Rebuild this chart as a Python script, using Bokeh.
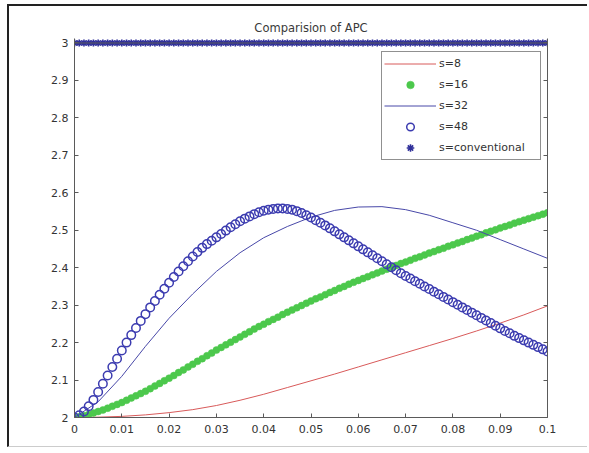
import numpy as np
from bokeh.plotting import figure
from bokeh.models import (Range1d, FixedTicker, LinearAxis, Span, Legend,
                          LegendItem)
from bokeh.embed import file_html
from bokeh.resources import INLINE

# ---------------- data ----------------
title_text = "Comparision of APC"

x_fine = np.round(np.arange(0, 101) * 0.001, 3)      # 0 .. 0.1 step 0.001
x_coarse = np.round(np.arange(0, 21) * 0.005, 3)     # 0 .. 0.1 step 0.005

s8 = [2.000, 2.001, 2.003, 2.007, 2.013, 2.021, 2.032, 2.046, 2.062, 2.080,
      2.098, 2.116, 2.135, 2.154, 2.173, 2.192, 2.211, 2.231, 2.252, 2.274,
      2.298]

s32 = [2.000, 2.042, 2.110, 2.190, 2.265, 2.330, 2.390, 2.440, 2.480, 2.510,
       2.535, 2.553, 2.562, 2.563, 2.555, 2.540, 2.520, 2.500, 2.475, 2.450,
       2.425]

s16 = [2.000, 2.002, 2.005, 2.008, 2.012, 2.016, 2.020, 2.025, 2.030, 2.035,
       2.040, 2.046, 2.052, 2.058, 2.064, 2.070, 2.077, 2.084, 2.091, 2.098,
       2.105, 2.112, 2.120, 2.127, 2.135, 2.142, 2.150, 2.157, 2.165, 2.172,
       2.180, 2.187, 2.194, 2.201, 2.208, 2.215, 2.222, 2.229, 2.236, 2.243,
       2.249, 2.256, 2.262, 2.268, 2.275, 2.281, 2.287, 2.293, 2.299, 2.305,
       2.311, 2.317, 2.322, 2.328, 2.334, 2.339, 2.345, 2.350, 2.356, 2.361,
       2.366, 2.371, 2.376, 2.381, 2.386, 2.391, 2.396, 2.401, 2.406, 2.411,
       2.415, 2.420, 2.425, 2.429, 2.434, 2.439, 2.443, 2.448, 2.452, 2.457,
       2.461, 2.466, 2.470, 2.475, 2.479, 2.484, 2.488, 2.493, 2.497, 2.501,
       2.506, 2.510, 2.514, 2.519, 2.523, 2.527, 2.531, 2.535, 2.539, 2.543,
       2.547]

s48 = [2.000, 2.006, 2.016, 2.030, 2.047, 2.068, 2.090, 2.112, 2.135, 2.157,
       2.179, 2.200, 2.220, 2.239, 2.258, 2.276, 2.294, 2.311, 2.328, 2.344,
       2.360, 2.375, 2.390, 2.404, 2.417, 2.430, 2.442, 2.453, 2.463, 2.472,
       2.481, 2.490, 2.499, 2.508, 2.516, 2.524, 2.531, 2.537, 2.543, 2.548,
       2.552, 2.555, 2.557, 2.558, 2.558, 2.557, 2.555, 2.551, 2.546, 2.540,
       2.534, 2.527, 2.520, 2.513, 2.505, 2.497, 2.489, 2.481, 2.473, 2.465,
       2.457, 2.449, 2.441, 2.433, 2.425, 2.417, 2.409, 2.401, 2.393, 2.385,
       2.378, 2.371, 2.364, 2.357, 2.350, 2.343, 2.336, 2.329, 2.322, 2.315,
       2.308, 2.301, 2.294, 2.287, 2.280, 2.273, 2.266, 2.259, 2.252, 2.245,
       2.238, 2.231, 2.225, 2.218, 2.212, 2.206, 2.200, 2.194, 2.188, 2.182,
       2.176]

s_conv = [3.0] * 101

x_ticks = [0, 0.01, 0.02, 0.03, 0.04, 0.05, 0.06, 0.07, 0.08, 0.09, 0.1]
x_tick_labels = ["0", "0.01", "0.02", "0.03", "0.04", "0.05", "0.06",
                 "0.07", "0.08", "0.09", "0.1"]
y_ticks = [2, 2.1, 2.2, 2.3, 2.4, 2.5, 2.6, 2.7, 2.8, 2.9, 3]
y_tick_labels = ["2", "2.1", "2.2", "2.3", "2.4", "2.5", "2.6", "2.7",
                 "2.8", "2.9", "3"]

labels = ["s=8", "s=16", "s=32", "s=48", "s=conventional"]

# ---------------- figure ----------------
FONT = "DejaVu Sans"
p = figure(width=580, height=443, output_backend="svg", toolbar_location=None,
           x_range=Range1d(0, 0.1), y_range=Range1d(2, 3.012),
           min_border_left=65, min_border_right=42, min_border_top=32,
           min_border_bottom=32, x_axis_location=None, y_axis_location=None)
p.styles = {"margin-left": "7px", "margin-top": "4px",
            "border-left": "2px solid #222222",
            "border-top": "2px solid #222222",
            "border-bottom": "1px solid #cccccc"}
p.background_fill_color = "white"
p.border_fill_color = "white"
p.outline_line_color = None
p.xgrid.visible = False
p.ygrid.visible = False

p.title.text = title_text
p.title.align = "center"
p.title.text_font = FONT
p.title.text_font_style = "normal"
p.title.text_font_size = "11.5px"
p.title.text_color = "#3a3a3a"
p.title.standoff = 8

def style_axis(ax):
    ax.axis_line_color = "#5a5a5a"
    ax.axis_line_width = 1
    ax.major_tick_in = 4
    ax.major_tick_out = 0
    ax.major_tick_line_color = "#5a5a5a"
    ax.minor_tick_line_color = None
    ax.major_label_text_font = FONT
    ax.major_label_text_font_size = "11px"
    ax.major_label_text_color = "#333333"

xb = LinearAxis(ticker=FixedTicker(ticks=x_ticks),
                major_label_overrides=dict(zip(x_ticks, x_tick_labels)))
style_axis(xb)
xb.major_label_standoff = 7
p.add_layout(xb, "below")

yl = LinearAxis(ticker=FixedTicker(ticks=y_ticks),
                major_label_overrides=dict(zip(y_ticks, y_tick_labels)))
style_axis(yl)
yl.major_label_standoff = 6
p.add_layout(yl, "left")

yr = LinearAxis(ticker=FixedTicker(ticks=y_ticks),
                major_label_overrides={t: "" for t in y_ticks})
style_axis(yr)
p.add_layout(yr, "right")

p.add_layout(Span(location=3, dimension="width", line_color="#5a5a5a",
                  line_width=1))

# ---------------- series ----------------
r8 = p.line(x_coarse, s8, line_color="#d85a5a", line_width=1)
r16 = p.scatter(x_fine, s16, marker="circle", size=7, fill_color="#4cc84c",
                line_color="#4cc84c", line_width=0.5)
r32 = p.line(x_coarse, s32, line_color="#4848a8", line_width=1)
r48 = p.scatter(x_fine, s48, marker="circle", size=8.5, fill_color=None,
                line_color="#3c3cb0", line_width=1.5)
rc = p.scatter(x_fine, s_conv, marker="asterisk", size=7, line_color="#30309a",
               line_width=1.6)

legend = Legend(items=[LegendItem(label=l, renderers=[r])
                       for l, r in zip(labels, [r8, r16, r32, r48, rc])],
                location=(307, 257))
legend.margin = 0
legend.padding = 2
legend.spacing = 2
legend.glyph_width = 52
legend.glyph_height = 19
legend.label_height = 19
legend.label_width = 99
legend.label_standoff = 3
legend.label_text_font = FONT
legend.label_text_font_size = "11px"
legend.label_text_color = "#333333"
legend.border_line_color = "#222222"
legend.border_line_width = 1
legend.background_fill_color = "white"
legend.background_fill_alpha = 1
p.add_layout(legend, "center")

open("out.html", "w").write(file_html(p, INLINE))
